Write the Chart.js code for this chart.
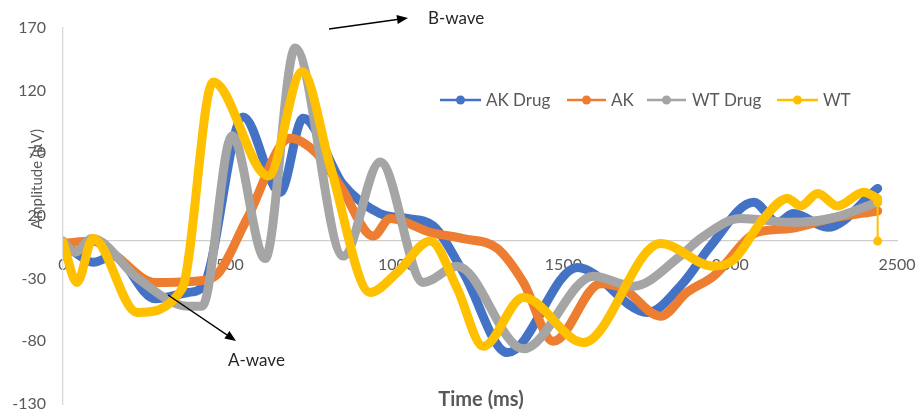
<!DOCTYPE html>
<html>
<head>
<meta charset="utf-8">
<script src="https://cdn.jsdelivr.net/npm/chart.js@4.4.1/dist/chart.umd.min.js"></script>
<style>
  html, body { margin: 0; padding: 0; background: #ffffff; }
  canvas { display: block; }
</style>
</head>
<body>
<canvas id="erg" width="922" height="417"></canvas>
<script>
// ERG traces: time (ms) and amplitude (µV) for each group
const seriesNames = ['AK Drug', 'AK', 'WT Drug', 'WT'];
const seriesColors = ['#4472C4', '#ED7D31', '#A5A5A5', '#FFC000'];

const akDrugTime = [0, 30, 90, 150, 276, 375, 420, 540, 651, 720, 840, 950, 1032, 1110, 1200, 1332, 1542, 1752, 1860, 1941, 2070, 2142, 2190, 2292, 2442];
const akDrugAmp  = [-3, -8, -17, -12, -46, -41, -36, 99, 39, 98, 45, 22, 18, 12, -25, -89, -21, -57, -33, -4, 31, 15, 22, 11, 42];

const akTime = [0, 90, 150, 276, 396, 456, 552, 681, 760, 831, 930, 981, 1101, 1200, 1302, 1380, 1470, 1611, 1680, 1791, 1870, 1950, 2082, 2181, 2300, 2442];
const akAmp  = [-2, 0, -10, -33, -32, -28, 18, 82, 70, 44, 4, 18, 7, 2, -6, -33, -80, -34, -38, -60, -41, -28, 7, 10, 18, 24];

const wtDrugTime = [0, 36, 87, 225, 375, 417, 507, 606, 696, 840, 951, 1080, 1182, 1380, 1590, 1710, 1850, 1911, 2031, 2181, 2300, 2442];
const wtDrugAmp  = [0, -9, 2, -30, -52, -52, 84, -14, 154, -12, 63, -33, -20, -86, -28, -36, -12, 2, 18, 15, 18, 31];

const wtTime = [0, 42, 90, 222, 357, 450, 615, 717, 801, 921, 1002, 1101, 1182, 1260, 1380, 1560, 1791, 1950, 2010, 2100, 2172, 2211, 2262, 2322, 2400, 2442];
const wtAmp  = [-1, -33, 2, -57, -38, 127, 52, 135, 60, -41, -25, 0, -38, -84, -45, -81, -2, -20, -15, 18, 34, 28, 38, 28, 39, 34];

// final WT sample dropping back to baseline
const wtEndTime = [2442, 2442];
const wtEndAmp  = [31, 0];

const xTicks = [0, 500, 1000, 1500, 2000, 2500];
const yTicks = [-130, -80, -30, 20, 70, 120, 170];

const zip = (t, a) => t.map((x, i) => ({ x: x, y: a[i] }));

const traceStyle = (i) => ({
  label: seriesNames[i],
  borderColor: seriesColors[i],
  backgroundColor: seriesColors[i],
  borderWidth: 9,
  borderCapStyle: 'round',
  borderJoinStyle: 'round',
  pointRadius: 0,
  pointHoverRadius: 0,
  cubicInterpolationMode: 'monotone',
  fill: false,
  order: 4 - i
});

const datasets = [
  Object.assign(traceStyle(0), { data: zip(akDrugTime, akDrugAmp) }),
  Object.assign(traceStyle(1), { data: zip(akTime, akAmp) }),
  Object.assign(traceStyle(2), { data: zip(wtDrugTime, wtDrugAmp) }),
  Object.assign(traceStyle(3), { data: zip(wtTime, wtAmp) }),
  {
    label: 'WT end',
    data: zip(wtEndTime, wtEndAmp),
    borderColor: seriesColors[3],
    backgroundColor: seriesColors[3],
    borderWidth: 2,
    pointRadius: 4.5,
    pointBorderWidth: 0,
    fill: false,
    order: 0
  }
];

const textColor = '#595959';
const baseFont = 'Lato, "Open Sans", sans-serif';

function arrow(ctx, x1, y1, x2, y2) {
  const ang = Math.atan2(y2 - y1, x2 - x1);
  const head = 11, half = 4.5;
  ctx.save();
  ctx.strokeStyle = '#000000';
  ctx.fillStyle = '#000000';
  ctx.lineWidth = 1.3;
  ctx.beginPath();
  ctx.moveTo(x1, y1);
  ctx.lineTo(x2 - head * Math.cos(ang), y2 - head * Math.sin(ang));
  ctx.stroke();
  ctx.beginPath();
  ctx.moveTo(x2, y2);
  ctx.lineTo(x2 - head * Math.cos(ang) + half * Math.sin(ang), y2 - head * Math.sin(ang) - half * Math.cos(ang));
  ctx.lineTo(x2 - head * Math.cos(ang) - half * Math.sin(ang), y2 - head * Math.sin(ang) + half * Math.cos(ang));
  ctx.closePath();
  ctx.fill();
  ctx.restore();
}

// axis titles, wave labels and the legend row
const overlay = {
  id: 'overlay',
  afterDraw(chart) {
    const ctx = chart.ctx;
    ctx.save();
    ctx.textBaseline = 'middle';

    // y-axis title
    ctx.save();
    ctx.translate(37, 179);
    ctx.rotate(-Math.PI / 2);
    ctx.fillStyle = textColor;
    ctx.font = '15px ' + baseFont;
    ctx.textAlign = 'center';
    ctx.fillText('Amplitude (µV)', 0, 0);
    ctx.restore();

    // x-axis title
    ctx.fillStyle = textColor;
    ctx.font = 'bold 20px ' + baseFont;
    ctx.textAlign = 'center';
    ctx.fillText('Time (ms)', 481, 400);

    // wave annotations
    ctx.fillStyle = '#262626';
    ctx.font = '17px ' + baseFont;
    ctx.textAlign = 'left';
    ctx.fillText('B-wave', 428, 19);
    ctx.fillText('A-wave', 228, 361);
    arrow(ctx, 329, 29, 408, 18);
    arrow(ctx, 168, 295, 236, 341);

    // legend
    const legendY = 100;
    const lineStart = [440, 567, 647, 777];
    const lineEnd = [481, 606, 686, 818];
    const textStart = [486, 611, 692, 823];
    ctx.font = '17px ' + baseFont;
    for (let i = 0; i < seriesNames.length; i++) {
      ctx.strokeStyle = seriesColors[i];
      ctx.fillStyle = seriesColors[i];
      ctx.lineWidth = 2.5;
      ctx.beginPath();
      ctx.moveTo(lineStart[i], legendY);
      ctx.lineTo(lineEnd[i], legendY);
      ctx.stroke();
      ctx.beginPath();
      ctx.arc((lineStart[i] + lineEnd[i]) / 2, legendY, 4.5, 0, Math.PI * 2);
      ctx.fill();
      ctx.fillStyle = textColor;
      ctx.fillText(seriesNames[i], textStart[i], legendY + 1);
    }
    ctx.restore();
  }
};

new Chart(document.getElementById('erg'), {
  type: 'line',
  data: { datasets: datasets },
  options: {
    responsive: false,
    animation: false,
    events: [],
    layout: { padding: { left: 0, top: 28, right: 25, bottom: 13 } },
    plugins: {
      legend: { display: false },
      tooltip: { enabled: false }
    },
    scales: {
      x: {
        type: 'linear',
        position: { y: 0 },
        min: 0,
        max: 2500,
        afterBuildTicks: (s) => { s.ticks = xTicks.map(v => ({ value: v })); },
        afterFit: (s) => { s.height = 0; s.paddingLeft = 0; s.paddingRight = 0; },
        grid: { display: false, drawTicks: false },
        border: { display: true, color: '#cfcfcf', width: 1.3 },
        ticks: {
          color: textColor,
          padding: 14,
          maxRotation: 0,
          callback: (v) => String(v),
          font: { family: baseFont, size: 16 }
        }
      },
      y: {
        type: 'linear',
        position: 'left',
        min: -130,
        max: 170,
        afterBuildTicks: (s) => { s.ticks = yTicks.map(v => ({ value: v })); },
        afterFit: (s) => { s.width = 63; s.paddingTop = 0; s.paddingBottom = 0; },
        grid: { display: false, drawTicks: false },
        border: { display: true, color: '#d9d9d9', width: 1.3 },
        ticks: {
          color: textColor,
          padding: 17,
          callback: (v) => String(v),
          font: { family: baseFont, size: 16 }
        }
      }
    }
  },
  plugins: [overlay]
});
</script>
</body>
</html>
